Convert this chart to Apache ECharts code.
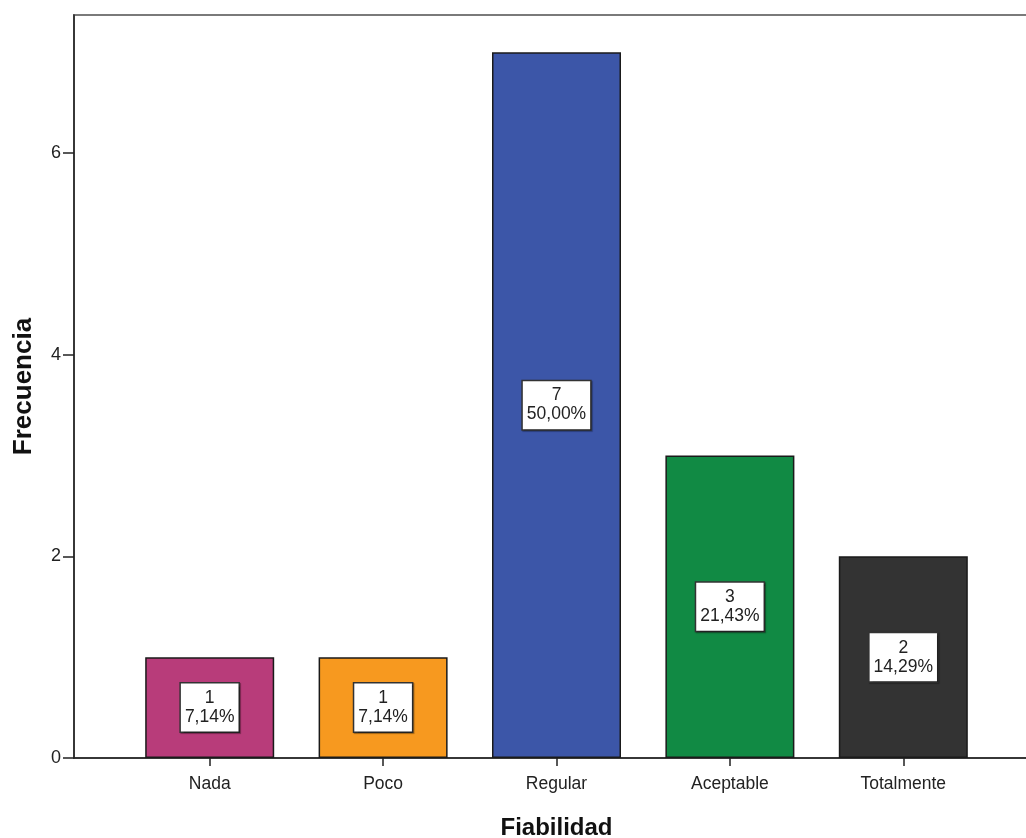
<!DOCTYPE html>
<html>
<head>
<meta charset="utf-8">
<script src="https://cdn.jsdelivr.net/npm/echarts@6/dist/echarts.min.js"></script>
<style>
html,body{margin:0;padding:0;background:#fff;}
#chart{width:1026px;height:838px;}
</style>
</head>
<body>
<div id="chart"></div>
<script>
const categories = ['Nada', 'Poco', 'Regular', 'Aceptable', 'Totalmente'];
const counts = [1, 1, 7, 3, 2];
const percentLabels = ['7,14%', '7,14%', '50,00%', '21,43%', '14,29%'];
const barColors = ['#B83C7A', '#F7991F', '#3C56A8', '#118A44', '#333333'];
const yTicks = [0, 2, 4, 6];

const FONT = '"Liberation Sans", Arial, sans-serif';
const yMax = 7.37;

const chart = echarts.init(document.getElementById('chart'), null, {renderer: 'canvas'});

chart.setOption({
  animation: false,
  backgroundColor: '#fff',
  grid: [
    {left: 123, right: 36, top: 15, bottom: 80, show: false, containLabel: false, outerBoundsMode: 'none'},
    {left: 74, right: -6, top: 15, bottom: 80, show: true, containLabel: false, outerBoundsMode: 'none',
     borderColor: '#7a7a7a', borderWidth: 2, backgroundColor: 'transparent'}
  ],
  xAxis: [
    {
      type: 'category', gridIndex: 0, data: categories,
      axisLine: {show: false},
      axisTick: {show: true, alignWithLabel: true, length: 8, lineStyle: {color: '#222', width: 1.5}},
      axisLabel: {color: '#222', fontSize: 17.5, fontFamily: FONT, margin: 17},
      name: 'Fiabilidad', nameLocation: 'middle', nameGap: 58,
      nameTextStyle: {fontSize: 24, fontWeight: 'bold', color: '#111', fontFamily: FONT}
    },
    {
      type: 'value', gridIndex: 1, min: 0, max: 1,
      axisLine: {show: true, onZero: false, lineStyle: {color: '#222', width: 1.5}},
      axisTick: {show: false}, axisLabel: {show: false}, splitLine: {show: false}
    }
  ],
  yAxis: [
    {
      type: 'value', gridIndex: 0, min: 0, max: yMax, show: false, splitLine: {show: false}
    },
    {
      type: 'value', gridIndex: 1, min: 0, max: yMax,
      axisLine: {show: true, lineStyle: {color: '#222', width: 1.5}},
      axisTick: {show: true, length: 11, customValues: yTicks, lineStyle: {color: '#222', width: 1.5}},
      axisLabel: {color: '#222', fontSize: 18, fontFamily: FONT, margin: 13, customValues: yTicks},
      splitLine: {show: false},
      name: 'Frecuencia', nameLocation: 'middle', nameGap: 37, nameRotate: 90,
      nameTextStyle: {fontSize: 26, fontWeight: 'bold', color: '#111', fontFamily: FONT}
    }
  ],
  series: [
    {
      type: 'bar', xAxisIndex: 0, yAxisIndex: 0,
      barWidth: 129,
      data: counts.map((v, i) => ({
        value: v,
        itemStyle: {color: barColors[i], borderColor: '#1a1a1a', borderWidth: 1.5}
      })),
      label: {
        show: true, position: 'inside',
        formatter: p => counts[p.dataIndex] + '\n' + percentLabels[p.dataIndex],
        color: '#222', fontSize: 17.5, lineHeight: 19, fontFamily: FONT, align: 'center',
        backgroundColor: '#fff', borderColor: '#333', borderWidth: 1.5,
        padding: [5, 4, 5, 4],
        shadowColor: 'rgba(0,0,0,0.35)', shadowOffsetX: 1, shadowOffsetY: 1, shadowBlur: 1
      }
    }
  ]
});
</script>
</body>
</html>
